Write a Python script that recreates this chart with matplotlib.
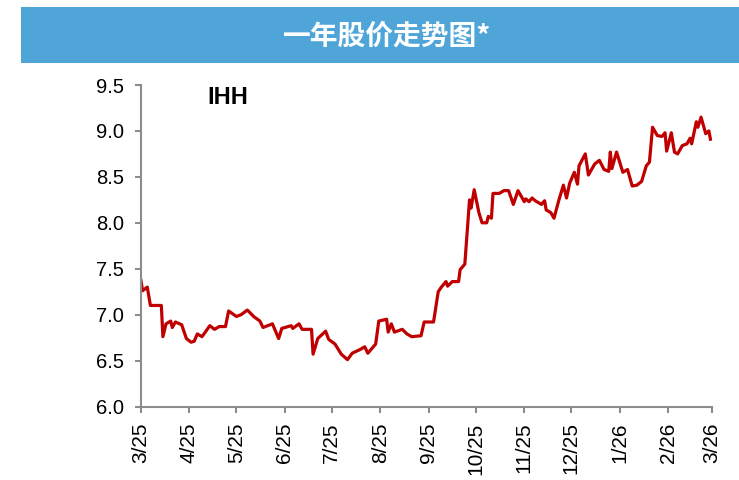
import matplotlib
matplotlib.use('Agg')
import matplotlib.pyplot as plt
import matplotlib.dates as mdates
from matplotlib.patches import Rectangle
import pandas as pd

plt.rcParams['font.family'] = ['Liberation Sans', 'DejaVu Sans']

# Day offsets from 2025-03-01 and the closing price
start_date = '2025-03-01'
end_date = '2026-03-01'
day_offsets = [
    0, 1, 4, 6, 13, 14, 16, 19, 20, 22, 26, 29, 32, 34, 36, 39, 44, 47, 50, 54,
    56, 61, 64, 68, 72, 76, 78, 84, 88, 90, 96, 97, 101, 103, 109, 110, 113, 118,
    120, 124, 128, 132, 135, 140, 143, 145, 150, 152, 157, 158, 160, 162, 167,
    170, 173, 179, 181, 187, 190, 192, 195, 196, 199, 203, 204, 207, 208, 210,
    211, 213, 216, 218, 221, 222, 224, 225, 229, 232, 235, 238, 241, 245, 246,
    248, 250, 252, 256, 258, 259, 262, 264, 267, 270, 272, 274, 277, 279, 280,
    284, 286, 290, 293, 296, 299, 300, 301, 304, 308, 311, 314, 317, 320, 323,
    325, 327, 330, 333, 335, 336, 339, 341, 343, 346, 349, 351, 352, 355, 356,
    358, 361, 363, 364,
]
prices = [
    7.37, 7.26, 7.30, 7.10, 7.10, 6.76, 6.90, 6.93, 6.86, 6.92, 6.89, 6.74, 6.70,
    6.71, 6.79, 6.76, 6.88, 6.84, 6.87, 6.87, 7.04, 6.98, 7.00, 7.05, 6.98, 6.93,
    6.86, 6.90, 6.74, 6.85, 6.88, 6.85, 6.90, 6.84, 6.84, 6.57, 6.74, 6.82, 6.73,
    6.68, 6.57, 6.51, 6.58, 6.62, 6.65, 6.58, 6.68, 6.93, 6.95, 6.81, 6.90, 6.81,
    6.84, 6.79, 6.76, 6.77, 6.92, 6.92, 7.25, 7.30, 7.36, 7.31, 7.36, 7.36, 7.49,
    7.55, 7.78, 8.25, 8.16, 8.36, 8.11, 8.00, 8.00, 8.07, 8.05, 8.32, 8.32, 8.35,
    8.35, 8.20, 8.35, 8.23, 8.26, 8.23, 8.27, 8.24, 8.20, 8.24, 8.14, 8.11, 8.05,
    8.24, 8.41, 8.27, 8.43, 8.55, 8.42, 8.62, 8.75, 8.52, 8.64, 8.68, 8.58, 8.56,
    8.77, 8.59, 8.77, 8.55, 8.58, 8.40, 8.41, 8.45, 8.62, 8.66, 9.04, 8.95, 8.94,
    8.98, 8.78, 8.98, 8.77, 8.75, 8.84, 8.86, 8.92, 8.86, 9.10, 9.04, 9.15, 8.97,
    9.00, 8.91,
]
y_ticks = [6.0, 6.5, 7.0, 7.5, 8.0, 8.5, 9.0, 9.5]
title = '一年股价走势图*'
ticker = 'IHH'

dates = pd.Timestamp(start_date) + pd.to_timedelta(day_offsets, unit='D')

fig = plt.figure(figsize=(7.39, 4.80), dpi=100)
ax = fig.add_axes([141 / 739, 1 - 406.5 / 480, 571 / 739, 321.5 / 480])

# Header banner
fig.patches.append(Rectangle((21 / 739, 1 - 63 / 480), 1, 56 / 480,
                             transform=fig.transFigure, facecolor='#4FA5D8',
                             edgecolor='none', zorder=0))
fig.text(387 / 739, 1 - 37 / 480, title, color='white', fontsize=20,
         fontweight='bold', ha='center', va='center',
         family=['Noto Sans CJK SC', 'DejaVu Sans'])

ax.plot(dates, prices, color='#C00000', linewidth=2.3, solid_joinstyle='round')

ax.set_ylim(6.0, 9.5)
ax.set_yticks(y_ticks)
ax.set_yticklabels([f'{v:.1f}' for v in y_ticks])
ax.set_xlim(pd.Timestamp(start_date), pd.Timestamp(end_date))
ax.xaxis.set_major_locator(mdates.MonthLocator())
ax.xaxis.set_major_formatter(
    plt.FuncFormatter(lambda v, p: f'{mdates.num2date(v).month}/{mdates.num2date(v).strftime("%y")}'))

for s in ['top', 'right']:
    ax.spines[s].set_visible(False)
for s in ['left', 'bottom']:
    ax.spines[s].set_color('#8C8C8C')
    ax.spines[s].set_linewidth(1.5)
ax.tick_params(axis='both', colors='#8C8C8C', labelcolor='black',
               width=1.5, length=4.5, direction='out')
ax.tick_params(axis='y', labelsize=14.5, pad=8)
ax.tick_params(axis='x', labelsize=15, pad=7)
plt.setp(ax.get_xticklabels(), rotation=90)

ax.text(0.117, 0.96, ticker, transform=ax.transAxes, fontsize=17,
        fontweight='bold', ha='left', va='center')

plt.savefig('out.png', dpi=100)
plt.close()
